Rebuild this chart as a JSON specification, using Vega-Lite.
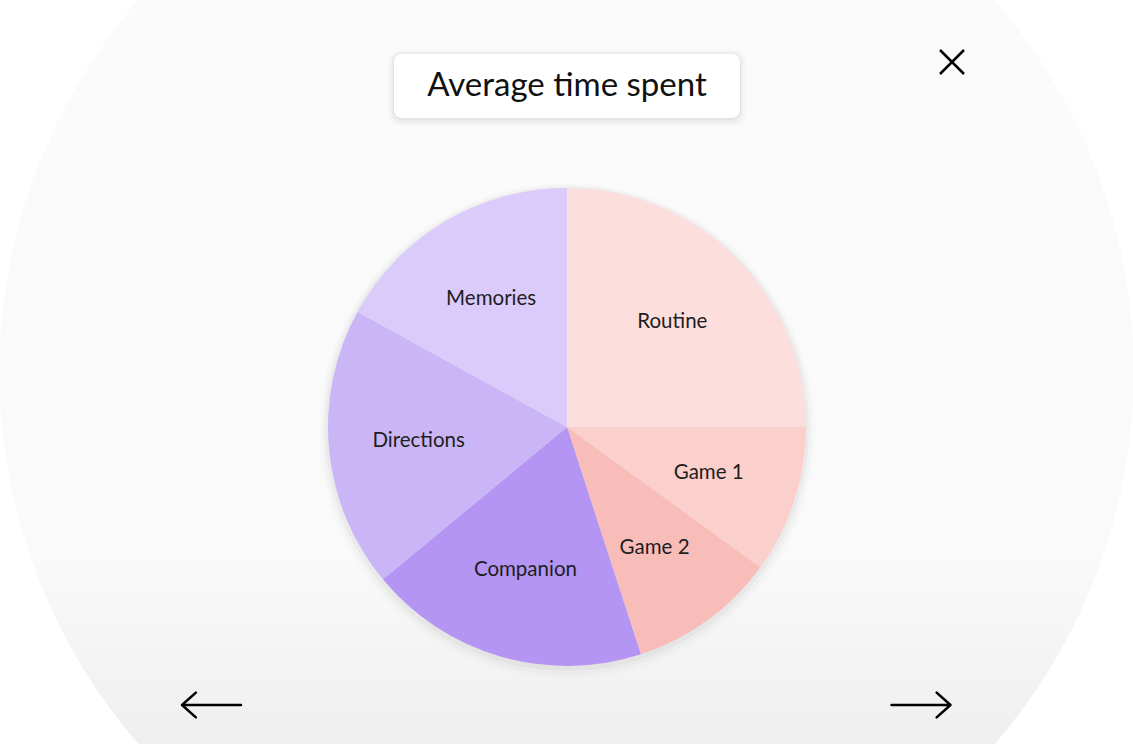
{
  "$schema": "https://vega.github.io/schema/vega-lite/v6.json",
  "width": 1133,
  "height": 744,
  "autosize": {"type": "none"},
  "padding": 0,
  "background": "#ffffff",
  "config": {"view": {"stroke": null}, "font": "Lato"},
  "datasets": {
    "slices": [
      {"category": "Routine", "value": 25},
      {"category": "Game 1", "value": 10},
      {"category": "Game 2", "value": 10},
      {"category": "Companion", "value": 19},
      {"category": "Directions", "value": 19},
      {"category": "Memories", "value": 17}
    ]
  },
  "layer": [
    {
      "data": {"values": [{}]},
      "mark": {
        "type": "arc", "theta": 0, "theta2": 6.2832, "radius": 567,
        "fill": {"gradient": "linear", "x1": 0, "y1": 0, "x2": 0, "y2": 1,
          "stops": [
            {"offset": 0, "color": "#fbfbfb"},
            {"offset": 0.66, "color": "#fafafa"},
            {"offset": 0.84, "color": "#eeeeee"},
            {"offset": 1, "color": "#e4e4e4"}
          ]}
      },
      "encoding": {}
    },
    {
      "data": {"values": [{}]},
      "mark": {"type": "arc", "theta": 0, "theta2": 6.2832, "radius": 248, "x": 567, "y": 431, "fill": "#000000", "opacity": 0.012},
      "encoding": {}
    },
    {
      "data": {"values": [{}]},
      "mark": {"type": "arc", "theta": 0, "theta2": 6.2832, "radius": 245, "x": 567, "y": 430, "fill": "#000000", "opacity": 0.02},
      "encoding": {}
    },
    {
      "data": {"values": [{}]},
      "mark": {"type": "arc", "theta": 0, "theta2": 6.2832, "radius": 242, "x": 567, "y": 429, "fill": "#000000", "opacity": 0.03},
      "encoding": {}
    },
    {
      "data": {"values": [{}]},
      "mark": {"type": "rect", "x": 388, "x2": 746, "y": 50, "y2": 126, "cornerRadius": 12, "fill": "#000000", "opacity": 0.02},
      "encoding": {}
    },
    {
      "data": {"values": [{}]},
      "mark": {"type": "rect", "x": 391, "x2": 743, "y": 52, "y2": 123, "cornerRadius": 10, "fill": "#000000", "opacity": 0.03},
      "encoding": {}
    },
    {
      "data": {"values": [{}]},
      "mark": {"type": "rect", "x": 393, "x2": 741, "y": 54, "y2": 120, "cornerRadius": 9, "fill": "#000000", "opacity": 0.04},
      "encoding": {}
    },
    {
      "data": {"values": [{}]},
      "mark": {"type": "rect", "x": 394, "x2": 740, "y": 54, "y2": 118, "cornerRadius": 8, "fill": "#ffffff"},
      "encoding": {}
    },
    {
      "data": {"values": [{"t": "Average time spent"}]},
      "mark": {"type": "text", "x": 567, "y": 86, "align": "center", "baseline": "middle", "fontSize": 33, "font": "Lato", "fontWeight": 400, "color": "#111111"},
      "encoding": {"text": {"field": "t"}}
    },
    {
      "data": {"name": "slices"},
      "transform": [{"window": [{"op": "row_number", "as": "rank"}]}],
      "mark": {"type": "arc", "radius": 239, "x": 567, "y": 427, "strokeWidth": 0},
      "encoding": {
        "theta": {"field": "value", "type": "quantitative", "stack": true},
        "order": {"field": "rank", "type": "quantitative"},
        "color": {
          "field": "category", "type": "nominal", "legend": null,
          "scale": {
            "domain": ["Routine", "Game 1", "Game 2", "Companion", "Directions", "Memories"],
            "range": ["#fcdedd", "#fbcfcc", "#f9bdb9", "#b595f4", "#cab6f6", "#dbcbfa"]
          }
        }
      }
    },
    {
      "data": {"name": "slices"},
      "transform": [{"window": [{"op": "row_number", "as": "rank"}]}],
      "mark": {"type": "text", "radius": 149, "x": 567, "y": 427, "align": "center", "baseline": "middle", "fontSize": 20.5, "font": "Lato", "color": "#1e1e1e"},
      "encoding": {
        "theta": {"field": "value", "type": "quantitative", "stack": true},
        "order": {"field": "rank", "type": "quantitative"},
        "text": {"field": "category"}
      }
    },
    {
      "data": {"values": [{}]},
      "mark": {"type": "point", "x": 952, "y": 62, "shape": "M-1,-1L1,1M1,-1L-1,1", "size": 576, "filled": false, "stroke": "#000000", "strokeWidth": 2.5, "opacity": 1},
      "encoding": {}
    },
    {
      "data": {"values": [{}]},
      "mark": {"type": "point", "x": 211.5, "y": 705, "shape": "M1,0L-1,0M-0.53,-0.42L-1,0L-0.53,0.42", "size": 3481, "filled": false, "stroke": "#000000", "strokeWidth": 2.5, "strokeCap": "round", "strokeJoin": "round", "opacity": 1},
      "encoding": {}
    },
    {
      "data": {"values": [{}]},
      "mark": {"type": "point", "x": 921, "y": 705, "shape": "M-1,0L1,0M0.53,-0.42L1,0L0.53,0.42", "size": 3481, "filled": false, "stroke": "#000000", "strokeWidth": 2.5, "strokeCap": "round", "strokeJoin": "round", "opacity": 1},
      "encoding": {}
    }
  ]
}
